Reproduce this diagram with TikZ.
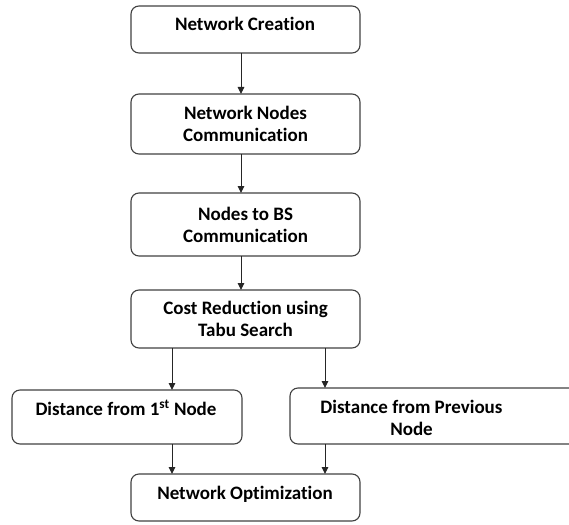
\documentclass[tikz,border=0pt]{standalone}
\usepackage{fontspec}
\setmainfont{Carlito}[Ligatures=NoCommon,RawFeature={-liga;-clig}]
\usetikzlibrary{arrows.meta}
\begin{document}
\begin{tikzpicture}[x=1pt,y=-1pt,
  box/.style={draw=black!75, line width=1.1pt, rounded corners=8pt, inner sep=0pt, outer sep=0pt,
    align=center, font=\fontsize{19}{22}\selectfont\bfseries},
  txt/.style={inner sep=0pt, align=center, font=\fontsize{19}{22}\selectfont\bfseries},
  arr/.style={draw=black!85, line width=1pt, -{Triangle[length=7pt,width=6.5pt]}}]
\useasboundingbox (0,0) rectangle (569,524);
\coordinate (colM) at (241,0);
\coordinate (colL) at (172,0);
\coordinate (colR) at (325,0);
% boxes
\node[box, minimum width=229pt, minimum height=47pt] (b1) at (245.5,29.5) {};
\node[txt, anchor=base] (t1) at (245,31) {Network Creation};
\node[box, minimum width=229pt, minimum height=60pt] (b2) at (245.5,124) {Network Nodes\\Communication};
\node[box, minimum width=229pt, minimum height=63pt] (b3) at (245.5,224.5) {Nodes to BS\\Communication};
\node[box, minimum width=229pt, minimum height=58pt] (b4) at (245.5,319) {Cost Reduction using\\Tabu Search};
\node[box, minimum width=230pt, minimum height=54pt] (b5) at (127,417) {};
\node[txt, anchor=base] (t5) at (126,415) {Distance from 1\textsuperscript{st} Node};
\node[box, minimum width=310pt, minimum height=56pt] (b6) at (445,416) {};
\node[txt] (t6) at (411.5,418) {Distance from Previous\\Node};
\node[box, minimum width=229pt, minimum height=47pt] (b7) at (245.5,497.5) {};
\node[txt, anchor=base] (t7) at (245,499.3) {Network Optimization};
% connectors
\draw[arr] (b1.south -| colM) -- (b2.north -| colM);
\draw[arr] (b2.south -| colM) -- (b3.north -| colM);
\draw[arr] (b3.south -| colM) -- (b4.north -| colM);
\draw[arr] (b4.south -| colL) -- (b5.north -| colL);
\draw[arr] (b4.south -| colR) -- (b6.north -| colR);
\draw[arr] (b5.south -| colL) -- (b7.north -| colL);
\draw[arr] (b6.south -| colR) -- (b7.north -| colR);
\end{tikzpicture}
\end{document}
